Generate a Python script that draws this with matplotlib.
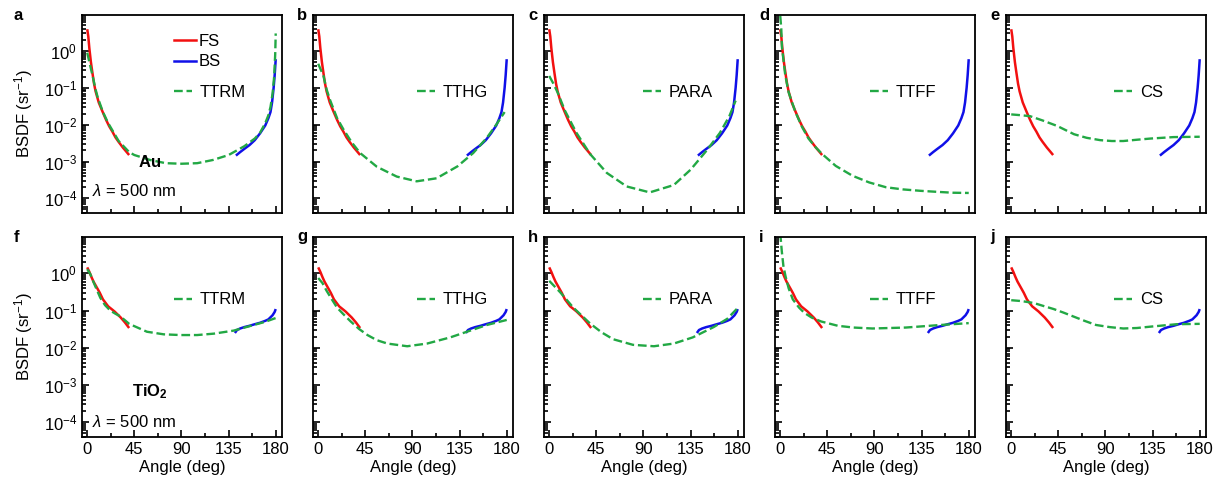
import matplotlib
matplotlib.use("Agg")
import matplotlib.pyplot as plt
from matplotlib.lines import Line2D
from matplotlib.ticker import LogLocator, MultipleLocator, NullFormatter

plt.rcParams['font.family'] = ['Liberation Sans', 'DejaVu Sans']
plt.rcParams['mathtext.fontset'] = 'custom'
plt.rcParams['mathtext.rm'] = 'Liberation Sans'
plt.rcParams['mathtext.it'] = 'Liberation Sans:italic'
plt.rcParams['mathtext.bf'] = 'Liberation Sans:bold'
plt.rcParams['font.size'] = 12

# measured data (shared by every panel of a row)
fs_au_x = [0, 1, 2, 3.5, 5, 6.5, 8, 11, 14.5, 18, 21, 24, 27, 30, 34, 37, 40]
fs_au_y = [3.9, 2.5, 1.2, 0.5, 0.25, 0.13, 0.08, 0.04, 0.023, 0.0135, 0.009, 0.0065,
           0.0045, 0.0034, 0.0024, 0.0019, 0.0015]
bs_au_x = [142, 146, 150, 155, 160, 165, 170, 173, 175, 176.5, 178, 179, 180]
bs_au_y = [0.00145, 0.0018, 0.0022, 0.0028, 0.0038, 0.0058, 0.0095, 0.015, 0.022,
           0.04, 0.1, 0.22, 0.6]

fs_tio2_x = [0, 2, 4, 6, 8.5, 12, 15, 20, 26, 32, 36, 40]
fs_tio2_y = [1.45, 1.1, 0.8, 0.6, 0.45, 0.3, 0.2, 0.13, 0.095, 0.065, 0.048, 0.034]
bs_tio2_x = [141, 143, 146, 150, 155, 160, 165, 170, 173, 177, 179, 180]
bs_tio2_y = [0.025, 0.03, 0.033, 0.036, 0.039, 0.043, 0.047, 0.053, 0.058, 0.075,
             0.092, 0.11]

# model curves, Au (top row)
ttrm_au_x = [0, 2, 5, 8, 10, 15, 20, 30, 40, 45, 60, 75, 90, 105, 120, 135, 150, 160,
             165, 170, 173, 175, 177, 178.5, 179.5, 180]
ttrm_au_y = [0.9, 0.5, 0.22, 0.09, 0.055, 0.022, 0.011, 0.0036, 0.0018, 0.0015,
             0.0011, 0.0009, 0.00087, 0.0009, 0.0011, 0.0015, 0.0026, 0.0042, 0.006,
             0.011, 0.018, 0.03, 0.07, 0.2, 0.8, 3.0]
tthg_au_x = [0, 5, 8, 11.5, 18, 24, 32, 40, 56, 75, 94, 113, 133, 148, 161, 171, 178]
tthg_au_y = [0.45, 0.21, 0.09, 0.045, 0.015, 0.0075, 0.0033, 0.0017, 0.00072,
             0.00039, 0.00029, 0.00035, 0.00074, 0.0017, 0.0044, 0.011, 0.022]
para_au_x = [0, 4, 8, 15, 26, 39, 55, 74, 96, 119, 135, 151, 163, 172, 178]
para_au_y = [0.21, 0.13, 0.075, 0.024, 0.006, 0.0016, 0.00049, 0.00021, 0.000145,
             0.00023, 0.0006, 0.0021, 0.006, 0.017, 0.045]
ttff_au_x = [0, 1, 1.6, 4.8, 8, 14.5, 21, 27, 34, 40, 53, 69, 85, 101, 117, 134, 150,
             165, 180]
ttff_au_y = [9, 4, 1.3, 0.22, 0.076, 0.022, 0.0085, 0.0042, 0.0024, 0.0016, 0.00076,
             0.00041, 0.00027, 0.0002, 0.000175, 0.00016, 0.00015, 0.000142, 0.00014]
cs_au_x = [0, 10, 18, 30, 44, 60, 72, 85, 96, 107, 120, 133, 155, 180]
cs_au_y = [0.019, 0.018, 0.017, 0.013, 0.0092, 0.0055, 0.0044, 0.0038, 0.0036,
           0.0036, 0.0039, 0.0042, 0.0046, 0.0047]

# model curves, TiO2 (bottom row)
ttrm_tio2_x = [0, 3, 6, 12.5, 17, 22, 27, 31.6, 40, 57, 73, 89, 105, 121, 140, 159,
               170, 180]
ttrm_tio2_y = [1.3, 0.95, 0.58, 0.22, 0.14, 0.10, 0.082, 0.07, 0.044, 0.027, 0.023,
               0.022, 0.022, 0.024, 0.029, 0.041, 0.05, 0.063]
tthg_tio2_x = [0, 4, 8, 13, 18, 24, 31, 39, 47, 56, 66, 85, 104, 126, 142, 161, 180]
tthg_tio2_y = [0.75, 0.55, 0.34, 0.2, 0.12, 0.08, 0.051, 0.032, 0.022, 0.016, 0.013,
               0.011, 0.013, 0.019, 0.027, 0.041, 0.056]
para_tio2_x = [0, 10.5, 23, 39, 50, 61, 80, 100, 119, 137, 157, 170, 179]
para_tio2_y = [0.63, 0.31, 0.12, 0.045, 0.026, 0.017, 0.012, 0.011, 0.013, 0.019,
               0.036, 0.06, 0.11]
ttff_tio2_x = [0, 1.5, 3, 5, 8, 12, 18, 23, 30, 39, 55, 70, 88, 120, 153, 180]
ttff_tio2_y = [12, 3.9, 1.6, 0.85, 0.4, 0.2, 0.12, 0.087, 0.065, 0.051, 0.039, 0.035,
               0.033, 0.035, 0.041, 0.046]
cs_tio2_x = [0, 10, 21.5, 30, 40.5, 50, 59, 70, 81, 94, 107, 120, 133, 158, 180]
cs_tio2_y = [0.19, 0.18, 0.16, 0.135, 0.11, 0.088, 0.07, 0.053, 0.041, 0.036, 0.033,
             0.034, 0.037, 0.043, 0.044]

model_names = ['TTRM', 'TTHG', 'PARA', 'TTFF', 'CS']
panel_letters = [['a', 'b', 'c', 'd', 'e'], ['f', 'g', 'h', 'i', 'j']]
models_au = [(ttrm_au_x, ttrm_au_y), (tthg_au_x, tthg_au_y), (para_au_x, para_au_y),
             (ttff_au_x, ttff_au_y), (cs_au_x, cs_au_y)]
models_tio2 = [(ttrm_tio2_x, ttrm_tio2_y), (tthg_tio2_x, tthg_tio2_y),
               (para_tio2_x, para_tio2_y), (ttff_tio2_x, ttff_tio2_y),
               (cs_tio2_x, cs_tio2_y)]

RED = '#f21010'
BLUE = '#1010e8'
GREEN = '#22a844'

W, H = 1227, 493
col_left = [82, 313, 544, 775, 1006]
legend_x = [0.46, 0.52, 0.495, 0.475, 0.54]
rows = [
    dict(top=15, bottom=213, fs=(fs_au_x, fs_au_y), bs=(bs_au_x, bs_au_y),
         models=models_au, leg_y=0.61, material=r'$\mathbf{Au}$', mat_y=0.26),
    dict(top=237, bottom=437, fs=(fs_tio2_x, fs_tio2_y), bs=(bs_tio2_x, bs_tio2_y),
         models=models_tio2, leg_y=0.685, material=r'$\mathbf{TiO_2}$', mat_y=0.225),
]

fig = plt.figure(figsize=(W / 100, H / 100), dpi=100)

for r, row in enumerate(rows):
    for c in range(5):
        ax = fig.add_axes([col_left[c] / W, 1 - row['bottom'] / H, 200 / W,
                           (row['bottom'] - row['top']) / H])
        ax.plot(*row['fs'], color=RED, lw=1.8, solid_capstyle='butt')
        ax.plot(*row['bs'], color=BLUE, lw=1.8, solid_capstyle='butt')
        mx, my = row['models'][c]
        ax.plot(mx, my, color=GREEN, lw=1.7, ls='--')

        ax.set_yscale('log')
        ax.set_ylim(4e-5, 9.5)
        ax.set_xlim(-5, 186)
        ax.xaxis.set_major_locator(MultipleLocator(45))
        ax.xaxis.set_minor_locator(MultipleLocator(22.5))
        ax.yaxis.set_major_locator(LogLocator(base=10, numticks=20))
        ax.yaxis.set_minor_locator(LogLocator(base=10, subs=range(2, 10), numticks=20))
        ax.yaxis.set_minor_formatter(NullFormatter())
        ax.tick_params(which='both', direction='in', top=False, right=False,
                       labelsize=12, width=1.2)
        ax.tick_params(which='major', length=5)
        ax.tick_params(which='minor', length=3)
        for s in ax.spines.values():
            s.set_linewidth(1.3)

        if r == 0:
            ax.tick_params(labelbottom=False)
        else:
            ax.set_xlabel('Angle (deg)', fontsize=12, labelpad=2)
        if c == 0:
            ax.set_ylabel(r'BSDF (sr$^{-1}$)', fontsize=12, labelpad=6)
            ax.text(0.34, row['mat_y'], row['material'], transform=ax.transAxes,
                    ha='center', va='center', fontsize=12)
            ax.text(0.05, row['mat_y'] - 0.15, r'$\lambda$ = 500 nm',
                    transform=ax.transAxes, ha='left', va='center', fontsize=12)
        else:
            ax.tick_params(labelleft=False)

        green = Line2D([], [], color=GREEN, lw=1.7, ls='--')
        leg = ax.legend([green], [model_names[c]], loc='center left',
                        bbox_to_anchor=(legend_x[c], row['leg_y']), frameon=False,
                        handlelength=1.05, handletextpad=0.5, borderpad=0,
                        borderaxespad=0, fontsize=12)
        if r == 0 and c == 0:
            ax.add_artist(leg)
            fs_h = Line2D([], [], color=RED, lw=1.8)
            bs_h = Line2D([], [], color=BLUE, lw=1.8)
            ax.legend([fs_h, bs_h], ['FS', 'BS'], loc='center left',
                      bbox_to_anchor=(legend_x[c], 0.816), frameon=False,
                      handlelength=1.3, handletextpad=0.15, borderpad=0,
                      borderaxespad=0, labelspacing=0.35, fontsize=12)

        lx = 14 if c == 0 else col_left[c] - 16
        fig.text(lx / W, 1 - row['top'] / H, panel_letters[r][c], fontsize=12,
                 fontweight='bold', ha='left', va='center')

fig.savefig('out.png', dpi=100)
